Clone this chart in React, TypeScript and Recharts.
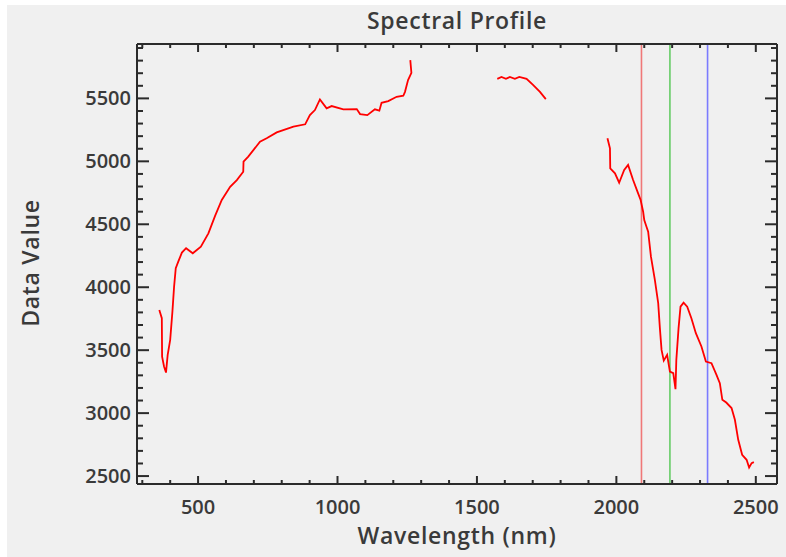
import { LineChart, Line, XAxis, YAxis, ReferenceLine } from 'recharts';

document.body.style.margin = '0';

// three visible pieces of the spectrum (gaps are the water absorption bands)
const nmA = [361, 370, 371, 378, 385, 391, 400, 408, 414, 420, 429, 442, 457, 481, 510, 537, 561, 585, 615, 639, 662, 663, 680, 722, 746, 782, 842, 884, 901, 919, 937, 961, 979, 1021, 1069, 1081, 1107, 1134, 1150, 1158, 1182, 1212, 1236, 1242, 1253, 1265, 1261];
const valA = [3820, 3754, 3449, 3370, 3322, 3463, 3582, 3806, 4005, 4151, 4203, 4275, 4310, 4270, 4322, 4428, 4567, 4693, 4798, 4851, 4917, 4997, 5037, 5156, 5183, 5230, 5275, 5294, 5367, 5407, 5492, 5421, 5439, 5413, 5415, 5375, 5367, 5413, 5402, 5465, 5479, 5513, 5521, 5552, 5645, 5703, 5804];

const nmB = [1573, 1588, 1604, 1618, 1636, 1652, 1678, 1702, 1726, 1747];
const valB = [5655, 5670, 5655, 5670, 5655, 5670, 5655, 5606, 5552, 5494];

const nmC = [1968, 1977, 1978, 1995, 2010, 2028, 2042, 2060, 2078, 2087, 2096, 2100, 2108, 2114, 2124, 2138, 2150, 2156, 2162, 2170, 2182, 2192, 2204, 2212, 2215, 2223, 2230, 2241, 2254, 2269, 2285, 2305, 2321, 2341, 2359, 2371, 2380, 2394, 2413, 2425, 2437, 2451, 2467, 2476, 2485, 2493];
const valC = [5183, 5103, 4944, 4905, 4830, 4931, 4971, 4852, 4746, 4693, 4600, 4534, 4481, 4441, 4243, 4058, 3873, 3675, 3502, 3417, 3463, 3330, 3317, 3190, 3423, 3675, 3846, 3878, 3846, 3754, 3635, 3529, 3410, 3397, 3304, 3238, 3106, 3084, 3040, 2947, 2788, 2669, 2629, 2568, 2603, 2611];

// band markers (R, G, B)
const bandNm = [2090, 2192, 2327];
const bandColors = ['#f07878', '#66cc66', '#7b7bff'];

const xTicks = [300, 400, 500, 600, 700, 800, 900, 1000, 1100, 1200, 1300, 1400, 1500, 1600, 1700, 1800, 1900, 2000, 2100, 2200, 2300, 2400, 2500];
const yTicks = [2500, 2600, 2700, 2800, 2900, 3000, 3100, 3200, 3300, 3400, 3500, 3600, 3700, 3800, 3900, 4000, 4100, 4200, 4300, 4400, 4500, 4600, 4700, 4800, 4900, 5000, 5100, 5200, 5300, 5400, 5500, 5600, 5700, 5800, 5900];

const toRows = (nm: number[], v: number[]) => nm.map((n, i) => ({ nm: n, v: v[i] }));
const segA = toRows(nmA, valA);
const segB = toRows(nmB, valB);
const segC = toRows(nmC, valC);

const FONT = '"Open Sans", "DejaVu Sans", sans-serif';
const INK = '#2b2b2b';
const TXT = '#3a3a3a';

const BottomTick = ({ x, y, payload }: any) => {
  const major = payload.value % 500 === 0;
  return (
    <g>
      <line x1={x} x2={x} y1={y} y2={y - (major ? 8 : 4)} stroke={INK} strokeWidth={2} />
      {major && (
        <text x={x} y={y + 30} textAnchor="middle" fill={TXT} fontSize={20} fontWeight={600} fontFamily={FONT}>
          {payload.value}
        </text>
      )}
    </g>
  );
};

const TopTick = ({ x, y, payload }: any) => {
  const major = payload.value % 500 === 0;
  return <line x1={x} x2={x} y1={y} y2={y + (major ? 8 : 4)} stroke={INK} strokeWidth={2} />;
};

const LeftTick = ({ x, y, payload }: any) => {
  const major = payload.value % 500 === 0;
  return (
    <g>
      <line x1={x} x2={x + (major ? 12 : 6)} y1={y} y2={y} stroke={INK} strokeWidth={2} />
      {major && (
        <text x={x - 6} y={y + 7} textAnchor="end" fill={TXT} fontSize={20} fontWeight={600} fontFamily={FONT}>
          {payload.value}
        </text>
      )}
    </g>
  );
};

const RightTick = ({ x, y, payload }: any) => {
  const major = payload.value % 500 === 0;
  return <line x1={x} x2={x - (major ? 12 : 6)} y1={y} y2={y} stroke={INK} strokeWidth={2} />;
};

const xDomain = [281, 2576];
const yDomain = [2437, 5932];
const axisLine = { stroke: INK, strokeWidth: 2 };

export default function App() {
  return (
    <div style={{ position: 'relative', width: 786, height: 557, background: '#fff', fontFamily: FONT }}>
      <div style={{ position: 'absolute', left: 7, top: 5, width: 779, height: 552, background: '#f0f0f0' }} />
      <div style={{ position: 'absolute', left: 0, top: 0 }}>
        <LineChart width={786} height={557} margin={{ top: 34, right: 4, bottom: 33, left: 77 }}>
          <XAxis dataKey="nm" type="number" domain={xDomain} allowDataOverflow ticks={xTicks} interval={0}
            height={40} tickSize={0} tickMargin={0} tickLine={false} axisLine={axisLine} tick={<BottomTick />} />
          <XAxis xAxisId="top" orientation="top" dataKey="nm" type="number" domain={xDomain} allowDataOverflow ticks={xTicks} interval={0}
            height={10} tickSize={0} tickMargin={0} tickLine={false} axisLine={axisLine} tick={<TopTick />} />
          <YAxis type="number" domain={yDomain} allowDataOverflow ticks={yTicks} interval={0}
            width={60} tickSize={0} tickMargin={0} tickLine={false} axisLine={axisLine} tick={<LeftTick />} />
          <YAxis yAxisId="right" orientation="right" type="number" domain={yDomain} allowDataOverflow ticks={yTicks} interval={0}
            width={5} tickSize={0} tickMargin={0} tickLine={false} axisLine={axisLine} tick={<RightTick />} />
          {bandNm.map((b, i) => (
            <ReferenceLine key={b} x={b} stroke={bandColors[i]} strokeWidth={1.6} ifOverflow="hidden" />
          ))}
          <Line data={segA} dataKey="v" type="linear" stroke="#ff0000" strokeWidth={1.8} dot={false} isAnimationActive={false} />
          <Line data={segB} dataKey="v" type="linear" stroke="#ff0000" strokeWidth={1.8} dot={false} isAnimationActive={false} />
          <Line data={segC} dataKey="v" type="linear" stroke="#ff0000" strokeWidth={1.8} dot={false} isAnimationActive={false} />
        </LineChart>
      </div>
      <div style={{ position: 'absolute', left: 137, width: 640, top: 4, textAlign: 'center', fontSize: 23, fontWeight: 600, letterSpacing: 0.7, color: TXT }}>
        Spectral Profile
      </div>
      <div style={{ position: 'absolute', left: 137, width: 640, top: 519, textAlign: 'center', fontSize: 23, fontWeight: 600, letterSpacing: 0.7, color: TXT }}>
        Wavelength (nm)
      </div>
      <div style={{ position: 'absolute', left: 30, top: 263, width: 200, textAlign: 'center', fontSize: 23, fontWeight: 600, letterSpacing: 0.7, color: TXT,
        transform: 'translate(-50%, -50%) rotate(-90deg)', lineHeight: '28px' }}>
        Data Value
      </div>
    </div>
  );
}
